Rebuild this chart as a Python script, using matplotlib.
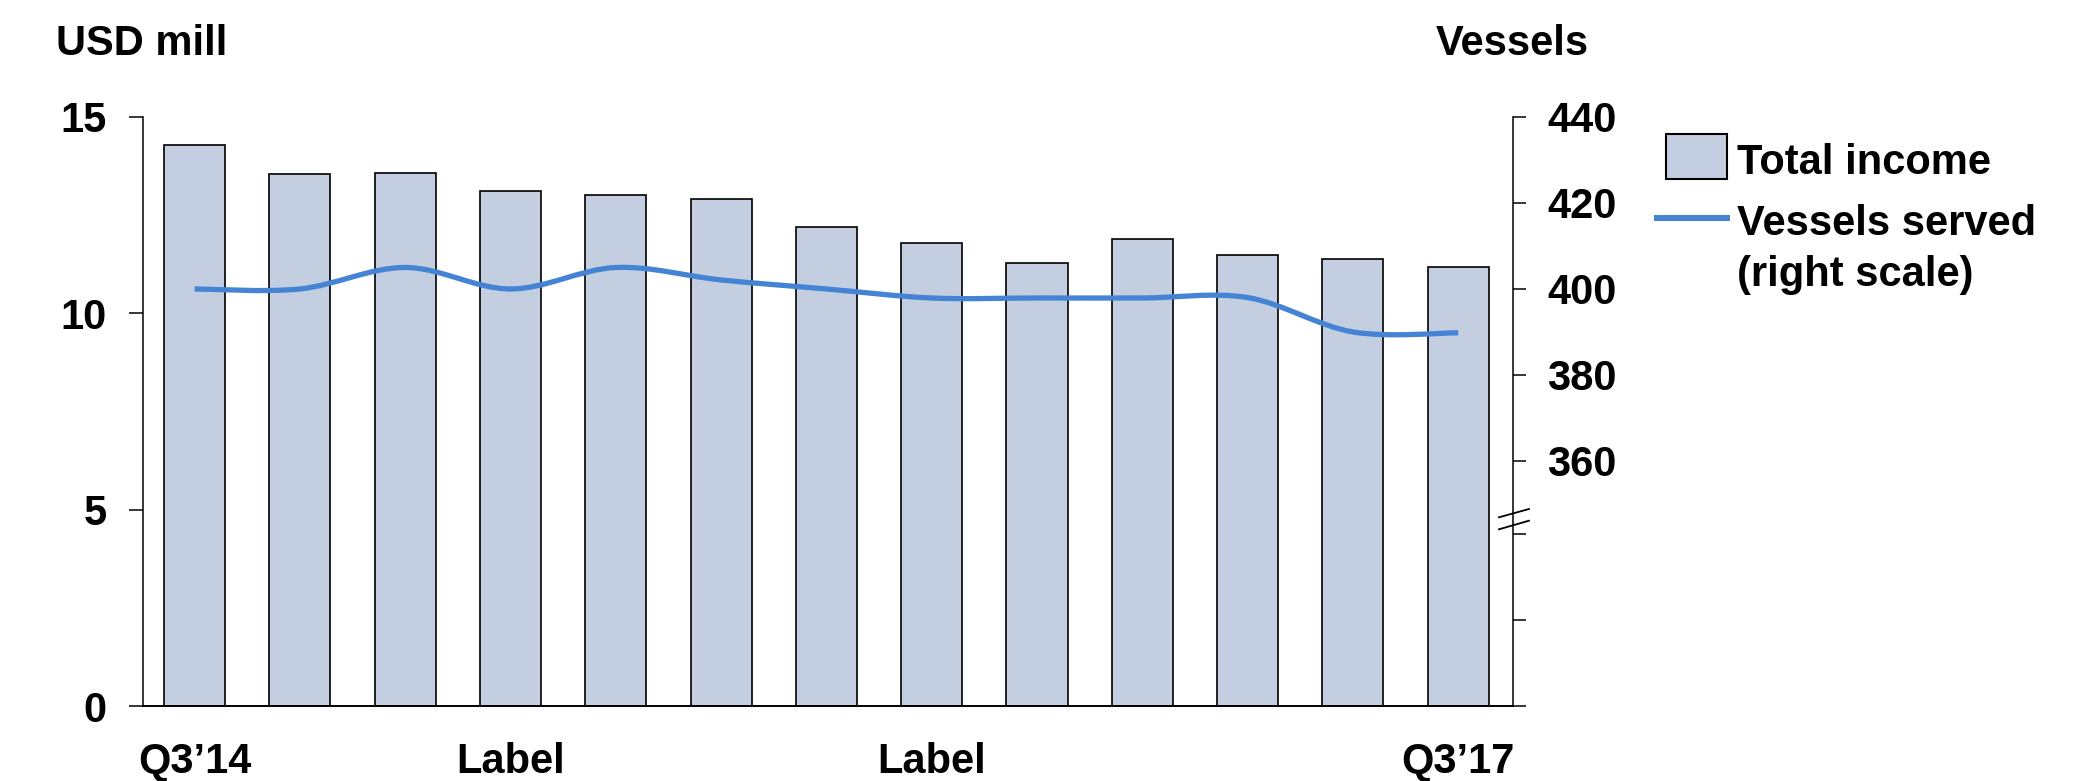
import numpy as np
import matplotlib
matplotlib.use("Agg")
import matplotlib.pyplot as plt
from matplotlib.path import Path
from matplotlib.patches import PathPatch, Rectangle
from matplotlib.lines import Line2D

# ---- data -------------------------------------------------------------
quarters = ["Q3\u201914", "", "", "Label", "", "", "", "Label", "", "", "", "", "Q3\u201917"]
total_income = [14.29, 13.54, 13.58, 13.12, 13.02, 12.91, 12.20, 11.80,
                11.28, 11.90, 11.48, 11.39, 11.19]
vessels_served = [400.0, 400.0, 405.0, 400.0, 405.0, 402.1, 400.0, 397.9,
                  397.9, 397.9, 398.0, 390.0, 389.8]
left_ticks = [0, 5, 10, 15]
right_ticks = [360, 380, 400, 420, 440]
right_ticks_below_break = [303, 323, 343]

# ---- style ------------------------------------------------------------
plt.rcParams["font.family"] = ["Liberation Sans", "DejaVu Sans"]
plt.rcParams["font.weight"] = "bold"
FS = 30
BAR_COLOR = "#C3CFE1"
LINE_COLOR = "#4583D4"

W, H = 2090, 781
fig = plt.figure(figsize=(W / 100, H / 100), dpi=100)


def fx(px):
    return px / W


def fy(py):
    return 1 - py / H


ax = fig.add_axes([fx(143), fy(706), fx(1513) - fx(143), fy(117) - fy(706)])
ax2 = ax.twinx()

x = np.arange(len(total_income))

# bars (left scale)
ax.bar(x, total_income, width=0.58, color=BAR_COLOR, edgecolor="black",
       linewidth=1.2, zorder=2)
ax.set_xlim(-0.49, 12.52)
ax.set_ylim(0, 15)
ax.set_yticks(left_ticks)
ax.set_yticklabels([str(t) for t in left_ticks])
ax.set_xticks(x)
ax.set_xticklabels(quarters)
ax.tick_params(axis="y", direction="out", length=10, width=1.1, pad=16,
               labelsize=FS)
ax.tick_params(axis="x", length=0, pad=26, labelsize=FS)
for s in ("top", "right"):
    ax.spines[s].set_visible(False)
ax.spines["left"].set_linewidth(1.1)
ax.spines["bottom"].set_linewidth(1.4)


# smoothed line for vessels served (right scale)
def smooth_path(xs, ys):
    pts = np.column_stack([xs, ys]).astype(float)
    ext = np.vstack([pts[0], pts, pts[-1]])
    verts = [pts[0]]
    codes = [Path.MOVETO]
    for i in range(len(pts) - 1):
        p0, p1, p2, p3 = ext[i], ext[i + 1], ext[i + 2], ext[i + 3]
        verts += [p1 + (p2 - p0) / 6, p2 - (p3 - p1) / 6, p2]
        codes += [Path.CURVE4] * 3
    return Path(verts, codes)


ax2.add_patch(PathPatch(smooth_path(x, vessels_served), fill=False,
                        edgecolor=LINE_COLOR, linewidth=3.8,
                        capstyle="butt", joinstyle="round", zorder=3))
ax2.set_ylim(303, 440)
ax2.set_yticks(right_ticks_below_break + right_ticks)
ax2.set_yticklabels([""] * len(right_ticks_below_break) +
                    [str(t) for t in right_ticks])
ax2.tick_params(axis="y", direction="out", length=9.4, width=1.1, pad=15,
                labelsize=FS)
for s in ("top", "left", "bottom"):
    ax2.spines[s].set_visible(False)
ax2.spines["right"].set_linewidth(1.1)

# axis break marks on the right scale
xb = [(1499 - 143) / 1370, (1529 - 143) / 1370]
for y0, y1 in ((517.3, 509.0), (529.3, 520.7)):
    ax2.add_line(Line2D(xb, [(706 - y0) / 589, (706 - y1) / 589],
                        transform=ax2.transAxes, color="black",
                        linewidth=1.3, clip_on=False, zorder=5))

# axis titles
fig.text(fx(56), fy(55), "USD mill", fontsize=FS, fontweight="bold",
         va="baseline", ha="left")
fig.text(fx(1436), fy(55), "Vessels", fontsize=FS, fontweight="bold",
         va="baseline", ha="left")

# legend
fig.add_artist(Rectangle((fx(1666), fy(179)), fx(61), 45 / H,
                         facecolor=BAR_COLOR, edgecolor="black",
                         linewidth=1.5, transform=fig.transFigure))
fig.text(fx(1737), fy(174), "Total income", fontsize=FS, fontweight="bold",
         va="baseline", ha="left")
fig.add_artist(Line2D([fx(1657), fx(1727)], [fy(218), fy(218)],
                      color=LINE_COLOR, linewidth=4.3,
                      transform=fig.transFigure))
fig.text(fx(1737), fy(235), "Vessels served", fontsize=FS, fontweight="bold",
         va="baseline", ha="left")
fig.text(fx(1737), fy(286), "(right scale)", fontsize=FS, fontweight="bold",
         va="baseline", ha="left")

fig.savefig("out.png", dpi=100)
